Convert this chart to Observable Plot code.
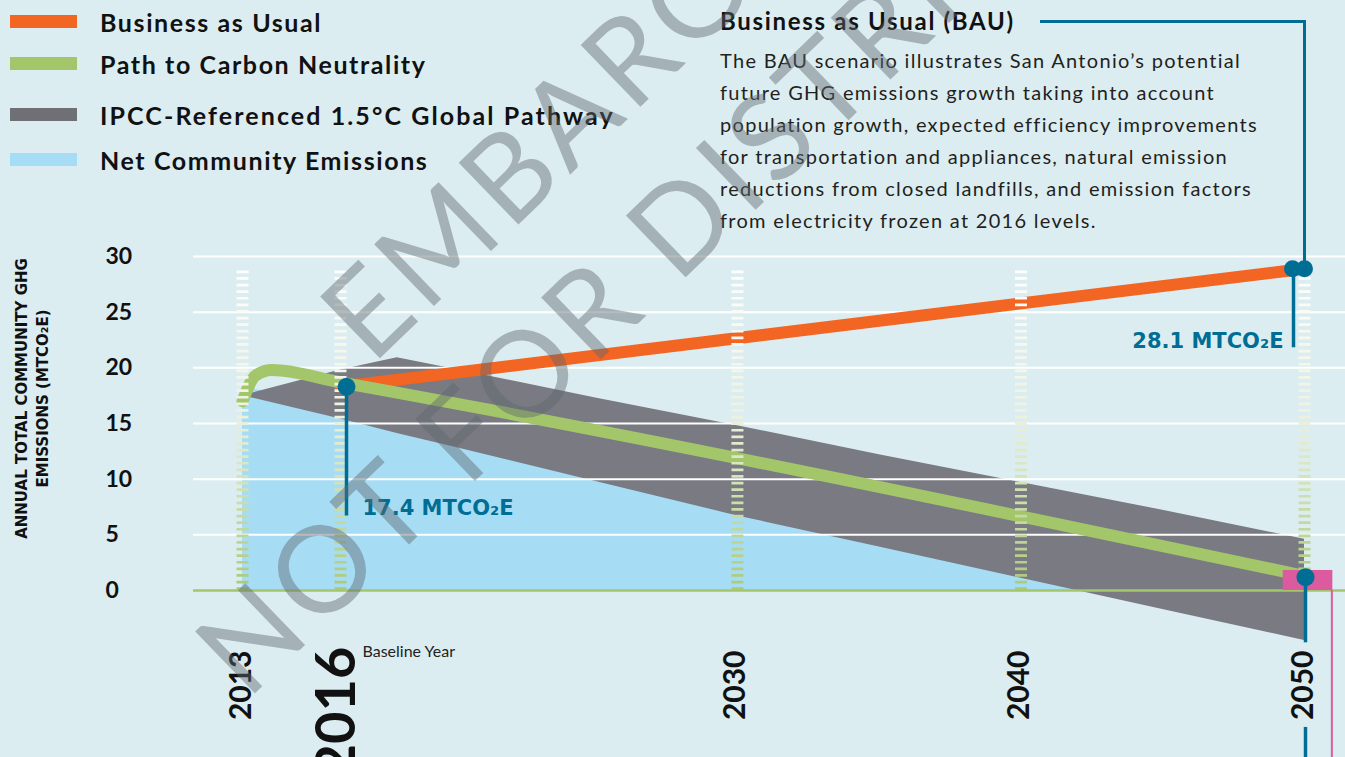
<!DOCTYPE html>
<html><head><meta charset="utf-8">
<script src="https://cdn.jsdelivr.net/npm/d3@7"></script>
<script src="https://cdn.jsdelivr.net/npm/@observablehq/plot@0.6"></script>
<style>
body{margin:0;background:#dcedf1;}
#wrap{position:relative;width:1345px;height:757px;overflow:hidden;background:#dcedf1;font-family:Lato,"Open Sans",sans-serif;}
#chart{position:absolute;left:0;top:0;}
.sw{position:absolute;left:10px;width:67px;height:13px;}
.lt{position:absolute;left:100px;font-weight:bold;font-size:25px;line-height:26px;color:#111;white-space:nowrap;letter-spacing:1.6px;}
.lt.wide{letter-spacing:2.1px;}
#ann{position:absolute;left:720px;top:0;color:#231f20;}
#ann .t{position:absolute;left:0;top:8px;font-weight:bold;font-size:24px;line-height:26px;white-space:nowrap;color:#111;letter-spacing:1.7px;}
#ann .b{position:absolute;left:0;top:44px;font-size:20px;line-height:32px;white-space:nowrap;letter-spacing:1.3px;}
#conn{position:absolute;box-sizing:border-box;border-top:3.5px solid #006e94;border-right:3.5px solid #006e94;}
.wm{position:absolute;font-size:120px;line-height:120px;margin-top:-60px;transform-origin:0 50%;transform:rotate(-44deg);color:rgba(95,105,110,0.45);font-weight:400;white-space:nowrap;font-family:Lato,sans-serif;pointer-events:none;letter-spacing:6px;}
</style></head>
<body>
<div id="wrap">
  <div id="chart"></div>
  <div id="legend"></div>
  <div id="ann">
    <div class="t">Business as Usual (BAU)</div>
    <div class="b">The BAU scenario illustrates San Antonio’s potential<br>future GHG emissions growth taking into account<br>population growth, expected efficiency improvements<br>for transportation and appliances, natural emission<br>reductions from closed landfills, and emission factors<br>from electricity frozen at 2016 levels.</div>
  </div>
  <div id="conn"></div>
  <div class="wm" style="left:340px;top:333px">EMBARGOED</div>
  <div class="wm" style="left:215px;top:668px">NOT FOR DISTRIBUTION</div>
</div>
<script>
// ---- data ----
const tickYears = [2013, 2016, 2030, 2040, 2050];
const yTicks = [0, 5, 10, 15, 20, 25, 30];

const legendLabels = ["Business as Usual", "Path to Carbon Neutrality", "IPCC-Referenced 1.5°C Global Pathway", "Net Community Emissions"];
const legendColors = ["#f26522", "#a3c66a", "#6f7075", "#a6ddf5"];

const bauYears = [2016, 2050];
const bauValues = [18.3, 28.9];

const pathYears = [2013, 2013.4, 2013.9, 2016, 2050];
const pathValues = [17.0, 19.3, 19.8, 18.7, 1.3];

const ipccYears = [2013, 2016, 2018, 2020, 2025, 2030, 2035, 2040, 2045, 2050];
const ipccUpper = [17.5, 19.8, 20.9, 19.9, 17.3, 14.8, 12.2, 9.7, 7.2, 4.6];
const ipccLower = [17.5, 15.4, 14.1, 12.9, 9.8, 6.7, 3.9, 1.1, -1.7, -4.5];

const netYears = [2013, 2016, 2020, 2025, 2030, 2035, 2040, 2042];
const netValues = [18.2, 17.0, 13.1, 10.0, 6.9, 4.1, 1.3, 0];

const calloutYears = [2016, 2050, 2050];
const calloutValues = [18.3, 28.9, 1.2];
const calloutStemEnds = [6.7, 21.8, -4.7];
const calloutLabels = ["17.4 MTCO₂E", "28.1 MTCO₂E", ""];
const calloutLabelY = [7.4, 22.4, 0];

const targetBox = {x1: 2049.25, x2: 2051, y1: 0, y2: 1.8};

// ---- colours ----
const ORANGE = "#f26522", GREEN = "#a3c66a", GRAY = "#797a82", BLUE = "#a6ddf5", TEAL = "#006e94", PINK = "#dc5b9e";

const bau = bauYears.map((x, i) => ({x, y: bauValues[i]}));
const path = pathYears.map((x, i) => ({x, y: pathValues[i]}));
const ipcc = ipccYears.map((x, i) => ({x, lo: ipccLower[i], hi: ipccUpper[i]}));
const net = netYears.map((x, i) => ({x, y: netValues[i]}));
const callouts = calloutYears.map((x, i) => ({x, y: calloutValues[i], end: calloutStemEnds[i], label: calloutLabels[i], ly: calloutLabelY[i]}));

const boldFont = "Lato, 'Open Sans', sans-serif";
const wideFont = "'DejaVu Sans', sans-serif";

const plot = Plot.plot({
  width: 1345, height: 757,
  marginLeft: 193, marginRight: 0, marginTop: 256, marginBottom: 167,
  x: {type: "linear", domain: [2013, 2016, 2050], range: [242, 340, 1304], axis: null},
  y: {domain: [0, 30], range: [590, 256], axis: null},
  style: {background: "transparent", fontFamily: boldFont, overflow: "visible"},
  marks: [
    Plot.areaY(net, {x: "x", y: "y", fill: BLUE}),
    Plot.areaY(ipcc, {x: "x", y1: "lo", y2: "hi", fill: GRAY}),
    Plot.ruleY(yTicks.filter(d => d > 0), {stroke: "white", strokeWidth: 2}),
    Plot.ruleY([0], {stroke: GREEN, strokeWidth: 2.5}),
    Plot.line(bau, {x: "x", y: "y", stroke: ORANGE, strokeWidth: 12}),
    Plot.line(path, {x: "x", y: "y", stroke: GREEN, strokeWidth: 12, curve: "monotone-x"}),
    Plot.ruleX(tickYears, {y1: 0, y2: 29, stroke: "url(#dashGrad)", strokeWidth: 12, strokeDasharray: "2.7 3.9"}),
    Plot.rect([targetBox], {x1: "x1", x2: "x2", y1: "y1", y2: "y2", fill: PINK}),
    Plot.ruleX([targetBox.x2], {y1: 0, y2: -15, stroke: PINK, strokeWidth: 2, dx: -1}),
    // stems
    Plot.ruleX([callouts[0]], {x: "x", y1: "y", y2: "end", stroke: TEAL, strokeWidth: 3.5, dx: 6}),
    Plot.ruleX([callouts[1]], {x: "x", y1: "y", y2: "end", stroke: TEAL, strokeWidth: 3.5, dx: -11}),
    Plot.ruleX([callouts[2]], {x: "x", y1: "y", y2: "end", stroke: TEAL, strokeWidth: 3.5, dx: 1}),
    Plot.ruleX([callouts[2]], {x: "x", y1: -12.3, y2: -15, stroke: TEAL, strokeWidth: 3.5, dx: 1}),
    // dots
    Plot.dot([callouts[0]], {x: "x", y: "y", r: 9, fill: TEAL, dx: 6}),
    Plot.dot([callouts[1]], {x: "x", y: "y", r: 8.5, fill: TEAL, dx: -12}),
    Plot.dot([callouts[1]], {x: "x", y: "y", r: 8.5, fill: TEAL, dx: 0}),
    Plot.dot([callouts[2]], {x: "x", y: "y", r: 9, fill: TEAL, dx: 1}),
    // callout labels
    Plot.text([callouts[0]], {x: "x", y: "ly", text: "label", dx: 22, textAnchor: "start", fill: TEAL, fontSize: 21, fontWeight: "bold", fontFamily: wideFont}),
    Plot.text([callouts[1]], {x: "x", y: "ly", text: "label", dx: -21, textAnchor: "end", fill: TEAL, fontSize: 21, fontWeight: "bold", fontFamily: wideFont}),
    // y tick labels
    Plot.text(yTicks, {y: d => d, text: d => String(d), frameAnchor: "left", dx: -88, textAnchor: "start", fontSize: 23, fontWeight: "bold", fill: "#111"}),
    // y axis title
    Plot.text(["ANNUAL TOTAL COMMUNITY GHG\nEMISSIONS (MTCO₂E)"], {text: d => d, frameAnchor: "left", dx: -163, dy: -25, rotate: -90, textAnchor: "middle", fontSize: 15, fontWeight: "bold", lineHeight: 1.4, fill: "#111", fontFamily: wideFont}),
    // x tick labels
    Plot.text(tickYears.filter(d => d !== 2016), {x: d => d, text: d => String(d), frameAnchor: "bottom", dy: 60, dx: 8, rotate: -90, textAnchor: "end", fontSize: 30, fontWeight: "bold", fill: "#111"}),
    Plot.text([2016], {x: d => d, text: d => String(d), frameAnchor: "bottom", dy: 56, dx: 14, rotate: -90, textAnchor: "end", fontSize: 56, fontWeight: "bold", fill: "#111"}),
    Plot.text([2016], {x: d => d, text: ["Baseline Year"], frameAnchor: "bottom", dy: 66, dx: 22, textAnchor: "start", fontSize: 16, fill: "#222"})
  ]
});

const xs = plot.scale("x"), ys = plot.scale("y");
const gTop = ys.apply(29), gBot = ys.apply(0);
d3.select(plot).insert("defs", ":first-child").html(
  `<linearGradient id="dashGrad" gradientUnits="userSpaceOnUse" x1="0" x2="0" y1="${gTop}" y2="${gBot}">
     <stop offset="0" stop-color="#ffffff"/>
     <stop offset="0.45" stop-color="#eef2e0"/>
     <stop offset="1" stop-color="#a9c978"/>
   </linearGradient>`);
document.getElementById("chart").appendChild(plot);

// legend
const legendTops = [15, 57, 108, 153];
const leg = document.getElementById("legend");
legendLabels.forEach((lab, i) => {
  const sw = document.createElement("div");
  sw.className = "sw"; sw.style.top = legendTops[i] + "px"; sw.style.background = legendColors[i];
  leg.appendChild(sw);
  const t = document.createElement("div");
  t.className = "lt" + (i === 2 ? " wide" : ""); t.style.top = (legendTops[i] - 6) + "px"; t.textContent = lab;
  leg.appendChild(t);
});

// connector from annotation to BAU 2050 point
const conn = document.getElementById("conn");
const cx = xs.apply(calloutYears[1]) + 1.75, cy = ys.apply(calloutValues[1]);
conn.style.left = "1040px"; conn.style.top = "20px";
conn.style.width = (cx - 1040) + "px"; conn.style.height = (cy - 20) + "px";
</script>
</body></html>
